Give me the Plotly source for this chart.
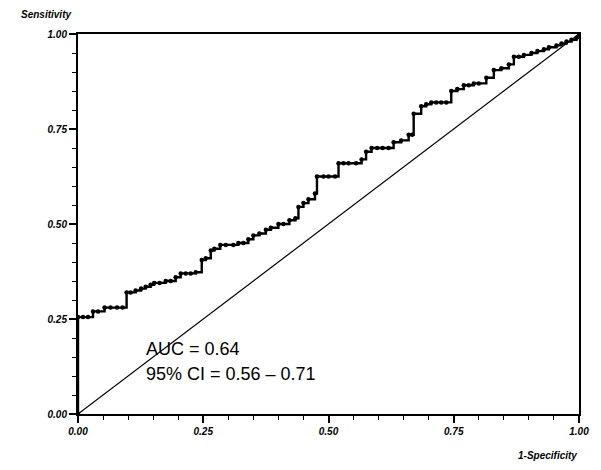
import plotly.graph_objects as go

# ROC operating points (1 - specificity, sensitivity)
fpr = [0, 0, 0.01, 0.02, 0.03, 0.04, 0.053, 0.065, 0.078, 0.089,
       0.097, 0.105, 0.115, 0.126, 0.135, 0.145, 0.152, 0.163, 0.175, 0.185,
       0.195, 0.205, 0.215, 0.225, 0.235, 0.247, 0.255, 0.265, 0.272, 0.284,
       0.295, 0.31, 0.32, 0.33, 0.34, 0.35, 0.362, 0.375, 0.385, 0.40,
       0.41, 0.422, 0.434, 0.44, 0.45, 0.46, 0.473, 0.477, 0.49, 0.50,
       0.513, 0.52, 0.53, 0.54, 0.555, 0.566, 0.575, 0.586, 0.597, 0.608,
       0.62, 0.63, 0.645, 0.66, 0.667, 0.67, 0.685, 0.695, 0.705, 0.715,
       0.725, 0.735, 0.745, 0.757, 0.77, 0.78, 0.79, 0.80, 0.815, 0.83,
       0.845, 0.86, 0.87, 0.88, 0.89, 0.905, 0.917, 0.93, 0.94, 0.955,
       0.965, 0.975, 0.985, 0.995, 1.0]
tpr = [0, 0.255, 0.255, 0.255, 0.27, 0.27, 0.28, 0.28, 0.28, 0.28,
       0.32, 0.32, 0.325, 0.33, 0.335, 0.34, 0.345, 0.345, 0.35, 0.35,
       0.36, 0.37, 0.37, 0.37, 0.373, 0.405, 0.41, 0.43, 0.435, 0.445,
       0.445, 0.445, 0.45, 0.45, 0.46, 0.47, 0.475, 0.485, 0.49, 0.50,
       0.50, 0.51, 0.515, 0.545, 0.555, 0.565, 0.58, 0.625, 0.625, 0.625,
       0.625, 0.66, 0.66, 0.66, 0.66, 0.67, 0.69, 0.70, 0.70, 0.70,
       0.70, 0.715, 0.72, 0.735, 0.735, 0.79, 0.81, 0.815, 0.82, 0.82,
       0.82, 0.82, 0.85, 0.855, 0.865, 0.865, 0.87, 0.87, 0.885, 0.905,
       0.91, 0.92, 0.94, 0.94, 0.945, 0.95, 0.955, 0.96, 0.965, 0.97,
       0.975, 0.98, 0.985, 0.99, 1.0]

ref_line = [0, 1]
major_step = 0.25
minor_step = 0.05
tick_text = ["0.00", "0.25", "0.50", "0.75", "1.00"]
auc_line = "AUC = 0.64"
ci_line = "95% CI = 0.56 \u2013 0.71"

# bold italic tick labels via rich-text aliases
tick_alias = {t: "<b><i>" + t + "</i></b>" for t in tick_text}

tick_font = dict(family="Liberation Sans, Arial, sans-serif", size=10,
                 color="black")
label_font = dict(family="Liberation Sans, Arial, sans-serif", size=10,
                  color="black", weight="bold", style="italic")
stat_font = dict(family="Liberation Sans, Arial, sans-serif", size=18,
                 color="black")

fig = go.Figure()

# chance diagonal
fig.add_trace(go.Scatter(x=ref_line, y=ref_line, mode="lines",
                         line=dict(color="black", width=1.2),
                         hoverinfo="skip", showlegend=False))

# empirical ROC step curve
fig.add_trace(go.Scatter(x=fpr, y=tpr, mode="lines+markers",
                         line=dict(color="black", width=2.4, shape="hv"),
                         marker=dict(color="black", size=4.5, symbol="circle"),
                         showlegend=False))

axis_common = dict(
    range=[0, 1], gridcolor="white", zerolinecolor="white",
    showline=True, linecolor="black", linewidth=2, mirror=True,
    dtick=major_step, tickformat=".2f", labelalias=tick_alias,
    ticks="outside", ticklen=7, tickwidth=2, tickcolor="#000000",
    tickfont=tick_font,
    minor=dict(dtick=minor_step, ticks="outside", ticklen=4, tickwidth=1,
               tickcolor="#000000"),
)

fig.update_xaxes(**axis_common)
fig.update_yaxes(**axis_common)

fig.add_annotation(x=0.132, y=0.171, xref="x", yref="y", text=auc_line,
                   showarrow=False, xanchor="left", yanchor="middle",
                   font=stat_font)
fig.add_annotation(x=0.132, y=0.105, xref="x", yref="y", text=ci_line,
                   showarrow=False, xanchor="left", yanchor="middle",
                   font=stat_font)

fig.add_annotation(x=-0.01, y=1.0, xref="paper", yref="paper", yshift=20,
                   text="Sensitivity", showarrow=False,
                   xanchor="right", yanchor="middle", font=label_font)
fig.add_annotation(x=1.0, y=0.0, xref="paper", yref="paper", yshift=-41,
                   text="1-Specificity", showarrow=False,
                   xanchor="right", yanchor="middle", font=label_font)

fig.update_layout(
    width=601, height=470,
    margin=dict(l=78, r=16, t=34, b=56),
    paper_bgcolor="white", plot_bgcolor="white",
)

fig.write_html("out.html")
